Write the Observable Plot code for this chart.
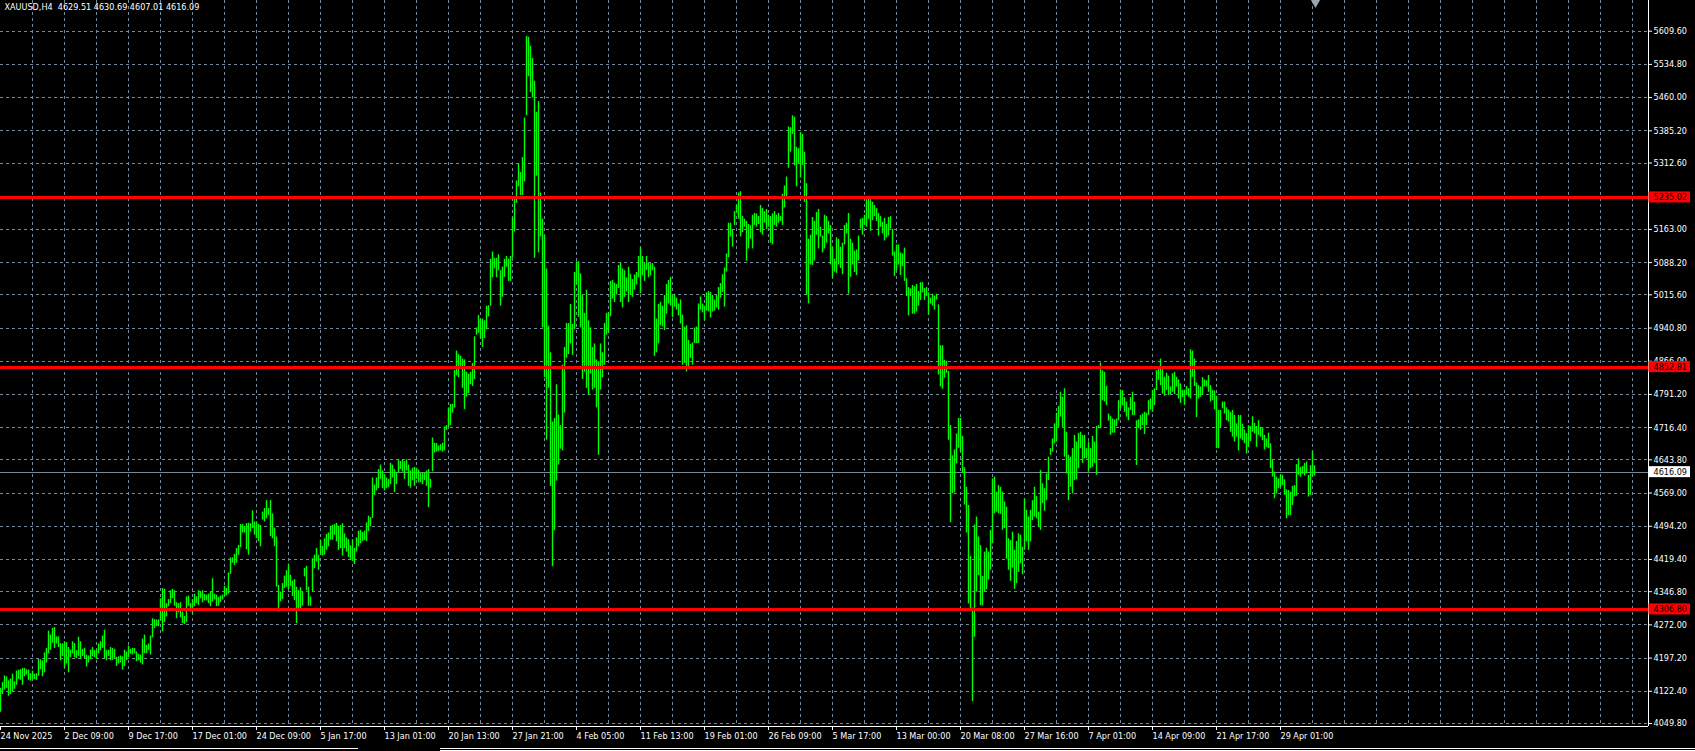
<!DOCTYPE html>
<html>
<head>
<meta charset="utf-8">
<script src="https://cdn.jsdelivr.net/npm/d3@7"></script>
<script src="https://cdn.jsdelivr.net/npm/@observablehq/plot@0.6"></script>
<style>
html, body { margin: 0; padding: 0; background: #000; overflow: hidden; }
#chart svg text { white-space: pre; }
#tabs { position: relative; width: 1695px; height: 3px; background: #000; }
#tabs div { position: absolute; height: 1px; background: #fff; }
</style>
</head>
<body>
<div id="chart"></div>
<div id="tabs"><div style="left:0;width:358px;top:0"></div><div style="left:440px;width:1255px;top:0"></div><div style="left:440px;width:1255px;top:2px"></div></div>
<script>
// ---- header ----
const symbolName = "XAUUSD,H4";
const lastOHLC = ["4629.51", "4630.69", "4607.01", "4616.09"];

// ---- axis tick labels ----
const priceTickLabels = ["5609.60","5534.80","5460.00","5385.20","5312.60","5237.80","5163.00","5088.20","5015.60","4940.80","4866.00",
  "4791.20","4716.40","4643.80","4569.00","4494.20","4419.40","4346.80","4272.00","4197.20","4122.40","4049.80"];
const timeTickLabels = ["24 Nov 2025","2 Dec 09:00","9 Dec 17:00","17 Dec 01:00","24 Dec 09:00","5 Jan 17:00","13 Jan 01:00",
  "20 Jan 13:00","27 Jan 21:00","4 Feb 05:00","11 Feb 13:00","19 Feb 01:00","26 Feb 09:00","5 Mar 17:00","13 Mar 00:00",
  "20 Mar 08:00","27 Mar 16:00","7 Apr 01:00","14 Apr 09:00","21 Apr 17:00","29 Apr 01:00"];
const barsPerTimeLabel = 32;
const barsPerGridCell = 16;
const visibleBarSlots = 824;

// ---- horizontal lines ----
const levelLines = [5235.02, 4852.81, 4306.80];
const currentPrice = 4616.09;

// ---- H4 bars [high, low] ----
const barsNovDec = [
[4129,4075],[4142,4115],[4157,4125],[4155,4129],[4146,4111],[4150,4115],[4161,4121],[4144,4127],[4168,4136],[4170,4149],
[4171,4147],[4174,4136],[4174,4155],[4171,4159],[4170,4147],[4162,4145],[4168,4149],[4161,4149],[4162,4147],[4194,4156],
[4193,4171],[4191,4155],[4209,4164],[4219,4186],[4258,4207],[4249,4215],[4264,4231],[4266,4219],[4245,4229],[4245,4221],
[4230,4191],[4229,4201],[4234,4174],[4232,4184],[4221,4164],[4215,4198],[4234,4207],[4230,4198],[4214,4196],[4244,4201],
[4234,4194],[4217,4201],[4219,4196],[4204,4177],[4202,4186],[4215,4194],[4221,4200],[4214,4198],[4217,4194],[4229,4207],
[4234,4214],[4247,4219],[4260,4196],[4214,4191],[4215,4201],[4221,4191],[4219,4192],[4217,4196],[4199,4178],[4200,4184],
[4202,4186],[4200,4170],[4215,4178],[4211,4191],[4224,4198],[4217,4206],[4219,4204],[4219,4207],[4211,4189],[4206,4191],
[4204,4186],[4240,4182],[4249,4207],[4226,4207],[4229,4214],[4247,4204],[4286,4243],[4284,4264],[4283,4268],[4283,4268],
[4331,4281],[4354,4256],[4352,4277],[4320,4290],[4329,4313],[4349,4320],[4352,4331],[4349,4314],[4322,4286],[4320,4299],
[4322,4288],[4301,4275],[4291,4273],[4335,4277],[4337,4314],[4320,4301],[4329,4296],[4341,4313],[4335,4320],[4349,4316],
[4346,4331],[4349,4322],[4341,4326],[4339,4326],[4341,4320],[4346,4313],[4376,4324],[4341,4328],[4339,4313],[4334,4314],
[4337,4322],[4339,4328],[4359,4335],[4354,4337],[4389,4341],[4423,4386],[4423,4411],[4431,4406],[4444,4411],[4451,4429],
[4498,4446],[4498,4479],[4494,4479],[4500,4441],[4501,4429],[4500,4481],[4529,4489],[4504,4474],[4504,4466],[4498,4459],
[4496,4448],[4526,4508],[4534,4504],[4552,4511],[4534,4519],[4552,4471],[4522,4466],[4490,4448],[4470,4357],[4361,4301],
[4346,4324],[4365,4329],[4382,4354],[4394,4357],[4409,4351],[4384,4359],[4371,4336],[4374,4327],[4357,4275],[4349,4304],
[4356,4305],[4346,4314],[4399,4380],[4404,4349],[4357,4314],[4335,4314],[4421,4346],[4429,4399],[4444,4414],[4429,4395],
[4463,4429],[4449,4427],[4466,4429],[4476,4440],[4479,4448],[4494,4463],[4496,4463],[4498,4474],[4501,4459],[4494,4440]];

const barsJanFeb = [
[4496,4444],[4500,4427],[4477,4444],[4468,4436],[4464,4424],[4450,4418],[4464,4415],[4444,4408],[4468,4436],[4483,4448],
[4485,4455],[4480,4460],[4483,4462],[4502,4460],[4517,4482],[4514,4493],[4603,4512],[4587,4564],[4603,4574],[4622,4579],
[4632,4600],[4619,4579],[4611,4574],[4603,4579],[4600,4581],[4636,4588],[4632,4603],[4622,4570],[4614,4588],[4643,4614],
[4640,4622],[4644,4616],[4640,4600],[4644,4619],[4632,4584],[4619,4580],[4625,4597],[4627,4584],[4625,4600],[4621,4592],
[4613,4592],[4614,4588],[4614,4597],[4619,4584],[4622,4536],[4600,4580],[4693,4617],[4681,4659],[4681,4661],[4675,4662],
[4678,4664],[4681,4661],[4718,4664],[4721,4710],[4761,4717],[4769,4721],[4769,4749],[4845,4761],[4889,4833],[4881,4829],
[4877,4849],[4871,4805],[4869,4757],[4841,4785],[4837,4793],[4841,4813],[4861,4809],[4921,4825],[4941,4925],[4969,4929],
[4961,4917],[4961,4897],[4957,4917],[4990,4937],[4991,4966],[5096,4990],[5112,5054],[5098,5074],[5098,5054],[5106,5070],
[5070,4990],[5078,5010],[5096,5055],[5102,5078],[5096,5046],[5102,5046],[5190,5098],[5234,5157],[5272,5222],[5311,5259],
[5291,5239],[5325,5239],[5414,5270],[5598,5419],[5596,5507],[5576,5471],[5548,5459],[5497,5098],[5427,5283],[5451,5110],
[5245,5146],[5186,4941],[5150,4829],[5074,4688],[4945,4805],[4885,4584],[4729,4403],[4737,4484],[4813,4596],[4745,4632],
[4721,4668],[4857,4664],[4897,4749],[4951,4873],[4951,4881],[4994,4905],[4949,4879],[5066,4937],[5090,5038],[5090,4965],
[5063,4941],[5014,4825],[4974,4841],[5026,4805],[4957,4789],[4941,4837],[4897,4801],[4905,4805],[4869,4761],[4865,4654],
[4905,4801],[4885,4829],[4951,4857],[4974,4925],[4975,4929],[5046,4966],[5048,5006],[5042,4998],[5039,5015],[5082,5030],
[5087,4998],[5074,4986],[5070,5010],[5054,5022],[5078,4998],[5062,5014],[5050,5010],[5060,5026],[5066,5038],[5102,5054],
[5122,5018],[5102,5058],[5086,5046],[5102,5070],[5087,5054],[5086,5058],[5086,5070],[5078,4877],[4961,4885],[4994,4905]];

const barsFebMar = [
[4999,4946],[4990,4943],[5014,4935],[5039,4972],[5048,4995],[5055,4990],[5014,4964],[5017,4988],[5008,4981],[4995,4968],
[5004,4950],[4970,4857],[4943,4861],[4946,4842],[4913,4853],[4904,4872],[4907,4857],[4941,4906],[4943,4906],[4995,4906],
[5011,4981],[4995,4975],[4990,4957],[5020,4979],[5023,4977],[5021,4964],[5014,4977],[5004,4979],[5014,4986],[5032,4981],
[5041,5008],[5061,5021],[5076,4988],[5108,5067],[5177,5099],[5177,5146],[5163,5123],[5203,5172],[5218,5199],[5245,5186],
[5248,5146],[5192,5156],[5186,5168],[5181,5091],[5174,5119],[5171,5141],[5195,5119],[5199,5172],[5198,5168],[5192,5174],
[5217,5155],[5210,5150],[5203,5177],[5208,5163],[5195,5168],[5192,5132],[5198,5128],[5203,5172],[5195,5168],[5199,5177],
[5192,5181],[5242,5172],[5261,5212],[5281,5236],[5394,5301],[5392,5337],[5419,5377],[5416,5306],[5348,5259],[5345,5310],
[5381,5279],[5377,5307],[5337,5224],[5266,5014],[5141,4995],[5150,5083],[5190,5082],[5181,5092],[5201,5150],[5208,5119],
[5168,5146],[5148,5110],[5195,5119],[5192,5132],[5181,5153],[5172,5083],[5123,5053],[5096,5067],[5144,5064],[5141,5083],
[5123,5075],[5132,5061],[5172,5128],[5177,5153],[5199,5017],[5141,5055],[5132,5083],[5114,5066],[5117,5059],[5148,5092],
[5186,5164],[5188,5150],[5195,5172],[5230,5168],[5233,5186],[5230,5159],[5224,5183],[5217,5192],[5210,5181],[5199,5148],
[5192,5168],[5179,5153],[5188,5137],[5174,5144],[5190,5148],[5192,5164],[5163,5103],[5112,5057],[5128,5070],[5128,5083],
[5110,5059],[5108,5079],[5121,5046],[5052,5012],[5032,4968],[5029,5012],[5037,4972],[5034,4972],[5039,4977],[5023,4990],
[5043,5003],[5043,5020],[5030,5003],[5032,5012],[5020,4970],[5008,4995],[5017,4990],[5013,4981],[5017,5004],[4993,4835],
[4901,4808],[4901,4803],[4868,4828],[4866,4839],[4843,4688],[4721,4502],[4653,4568],[4666,4569],[4702,4635],[4737,4670],
[4737,4661],[4697,4613],[4626,4542],[4582,4479],[4541,4319],[4426,4306],[4310,4099],[4497,4244],[4515,4346],[4470,4383],
[4451,4315],[4381,4315],[4436,4346],[4445,4351],[4436,4373]];

const barsMarApr = [
[4485,4395],[4601,4455],[4605,4522],[4571,4526],[4586,4522],
[4582,4521],[4571,4485],[4549,4489],[4537,4420],[4466,4395],[4462,4370],[4481,4400],[4440,4352],[4460,4365],[4477,4390],
[4474,4410],[4447,4385],[4556,4440],[4530,4459],[4515,4440],[4530,4459],[4552,4507],[4582,4515],[4561,4511],[4526,4492],
[4620,4485],[4590,4545],[4579,4528],[4612,4552],[4650,4597],[4669,4654],[4691,4661],[4725,4680],[4749,4684],[4764,4717],
[4796,4740],[4785,4717],[4804,4650],[4706,4612],[4654,4552],[4650,4582],[4669,4567],[4699,4597],[4684,4599],[4703,4624],
[4706,4669],[4699,4636],[4699,4646],[4669,4646],[4684,4616],[4669,4624],[4697,4627],[4684,4636],[4719,4609],[4721,4714],
[4862,4714],[4845,4777],[4841,4774],[4809,4766],[4747,4731],[4741,4699],[4736,4704],[4734,4704],[4736,4719],[4777,4732],
[4801,4759],[4800,4766],[4784,4751],[4774,4740],[4761,4732],[4784,4755],[4796,4744],[4774,4744],[4732,4631],[4734,4714],
[4744,4710],[4747,4721],[4751,4701],[4749,4721],[4777,4744],[4781,4756],[4800,4751],[4804,4766],[4845,4800],[4849,4823],
[4871,4811],[4847,4792],[4830,4787],[4839,4800],[4832,4789],[4808,4791],[4838,4796],[4841,4791],[4830,4808],[4824,4781],
[4815,4771],[4800,4784],[4801,4766],[4809,4789],[4804,4785],[4892,4781],[4889,4830],[4871,4809],[4817,4739],[4811,4781],
[4808,4785],[4829,4789],[4824,4808],[4822,4808],[4834,4796],[4811,4774],[4800,4777],[4799,4756],[4787,4669],[4755,4669],
[4755,4716],[4774,4759],[4774,4747],[4761,4732],[4756,4729],[4751,4706],[4755,4695],[4744,4684],[4725,4695],[4744,4664],
[4744,4691],[4724,4687],[4711,4680],[4703,4657],[4721,4672],[4719,4685],[4741,4706],[4726,4702],[4719,4672],[4732,4699],
[4717,4695],[4716,4687],[4699,4666],[4691,4672],[4704,4669],[4680,4624],[4644,4605],[4616,4556],[4605,4567],[4601,4579],
[4611,4582],[4609,4586],[4599,4564],[4576,4511],[4575,4518],[4571,4518],[4584,4541],[4586,4560],[4633,4562],[4646,4609],
[4627,4605],[4629,4611],[4636,4607],[4639,4612],[4609,4560],[4631,4564],[4663,4605],[4630.69,4607.01]];

// ---- build ----
const bars = [].concat(barsNovDec, barsJanFeb, barsFebMar, barsMarApr)
  .map(([high, low], i) => ({i, high, low}));
const priceTicks = priceTickLabels.map(Number);
const timeTicks = timeTickLabels.map((_, k) => k * barsPerTimeLabel);
const gridX = d3.range(barsPerGridCell, visibleBarSlots, barsPerGridCell);
const lastIndex = bars.length - 1;
const title = `${symbolName}  ${lastOHLC.join(" ")}`;

const FONT = '"DejaVu Sans Condensed", "DejaVu Sans", sans-serif';
const GRID = "#778899";
const W = 1695, H = 748, MB = 22, MR = 47;
const plotH = H - MB;
const yDomain = [4043.04, 5678.77];
const perPx = (yDomain[1] - yDomain[0]) / plotH;   // price units per pixel
const boxHalf = 5.5 * perPx;
const xPerPx = visibleBarSlots / (W - MR);
const boxX1 = visibleBarSlots + 0.5 * xPerPx, boxX2 = visibleBarSlots + 42 * xPerPx;
const boxTextX = visibleBarSlots + 5 * xPerPx;

const chart = Plot.plot({
  width: W, height: H,
  marginTop: 0, marginLeft: 0, marginRight: MR, marginBottom: MB,
  style: {background: "#000", color: "#fff", fontFamily: FONT, fontSize: "9px", overflow: "visible"},
  x: {type: "linear", domain: [0, visibleBarSlots], axis: null},
  y: {type: "linear", domain: yDomain, axis: null},
  marks: [
    Plot.ruleY(priceTicks, {stroke: GRID, strokeDasharray: "3,3", shapeRendering: "crispEdges"}),
    Plot.ruleX(gridX, {stroke: GRID, strokeDasharray: "3,3", shapeRendering: "crispEdges"}),
    Plot.ruleY([currentPrice], {stroke: GRID, shapeRendering: "crispEdges"}),
    Plot.ruleX(bars, {x: "i", y1: "low", y2: "high", stroke: "#00ff00", strokeWidth: 1.4}),
    Plot.ruleY(levelLines, {stroke: "#ff0000", strokeWidth: 3, shapeRendering: "crispEdges"}),
    // frame lines
    Plot.ruleX([visibleBarSlots], {stroke: "#fff", shapeRendering: "crispEdges"}),
    Plot.ruleY([yDomain[0]], {stroke: "#fff", shapeRendering: "crispEdges"}),
    // axes
    Plot.axisY(priceTicks, {anchor: "right", tickSize: 3, tickPadding: 2, stroke: "#fff", fill: "#fff",
      tickFormat: d => d.toFixed(2), label: null, fontSize: 9}),
    Plot.axisX(timeTicks, {anchor: "bottom", tickSize: 4, tickPadding: 2, stroke: "#fff", fill: "#fff",
      tickFormat: d => timeTickLabels[d / barsPerTimeLabel], textAnchor: "start", label: null, fontSize: 9}),
    // price label boxes
    Plot.rect([currentPrice], {x1: boxX1, x2: boxX2, y1: d => d - boxHalf, y2: d => d + boxHalf, fill: "#fff"}),
    Plot.text([currentPrice], {x: boxTextX, y: d => d, text: d => d.toFixed(2), fill: "#000", textAnchor: "start", fontSize: 9}),
    Plot.rect(levelLines, {x1: boxX1, x2: boxX2, y1: d => d - boxHalf, y2: d => d + boxHalf, fill: "#ff0000"}),
    Plot.text(levelLines, {x: boxTextX, y: d => d, text: d => d.toFixed(2), fill: "#000", textAnchor: "start", fontSize: 9}),
    // title
    Plot.text([title], {frameAnchor: "top-left", dx: 4, dy: 3, lineAnchor: "top", fill: "#fff", fontSize: 9}),
    // chart shift marker
    Plot.dot([lastIndex], {x: d => d + 0.5, frameAnchor: "top", dy: 2, symbol: "triangle", rotate: 180, r: 3.5, fill: "#9aa6b2", stroke: "none"})
  ]
});
document.getElementById("chart").appendChild(chart);
</script>
</body>
</html>
